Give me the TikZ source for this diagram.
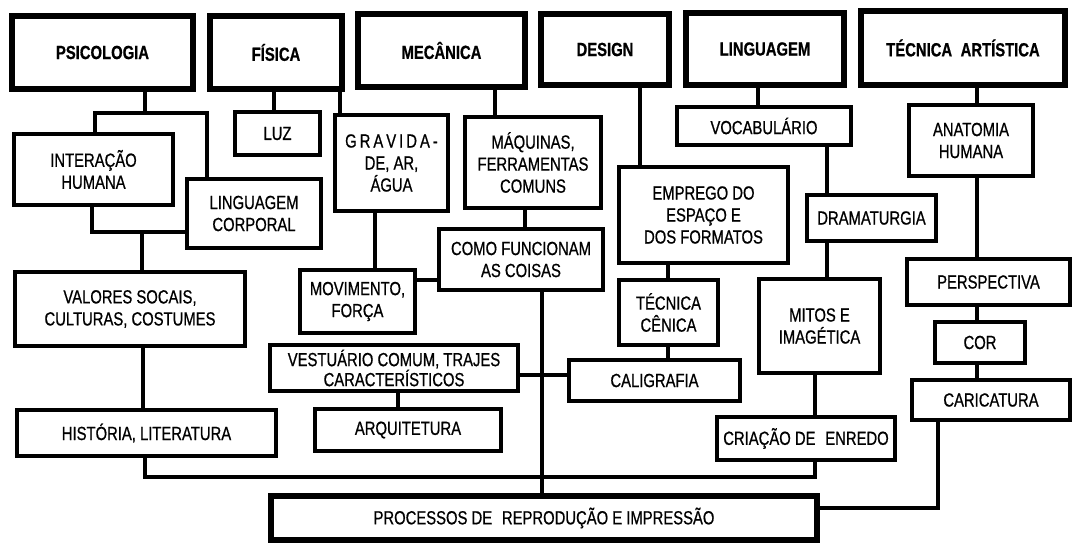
\documentclass[tikz,border=0pt]{standalone}
\usepackage{fontspec}
\setmainfont{Liberation Sans}[FakeStretch=0.78, FakeBold=0.7]
\begin{document}
\begin{tikzpicture}[x=1pt,y=-1pt,
  tbox/.style={draw, line width=6pt, fill=white, inner sep=1pt, outer sep=0pt, align=center,
    font=\fontsize{19}{22}\selectfont\bfseries},
  ibox/.style={draw, line width=4pt, fill=white, inner sep=1pt, outer sep=0pt, align=center,
    font=\fontsize{19}{22}\selectfont},
  conn/.style={line width=4pt}]
\fill[white] (0,0) rectangle (1075,546);
\useasboundingbox (0,0) rectangle (1075,546);

% top row
\node[tbox, minimum width=181pt, minimum height=73pt] (psi) at (102.5,52.5) {PSICOLOGIA};
\node[tbox, minimum width=132pt, minimum height=73pt] (fis) at (276,52.5) {FÍSICA};
\node[tbox, minimum width=167pt, minimum height=73pt] (mec) at (441.5,50.5) {MECÂNICA};
\node[tbox, minimum width=128pt, minimum height=71pt] (des) at (605,49.5) {DESIGN};
\node[tbox, minimum width=158pt, minimum height=72pt] (lin) at (765,49) {LINGUAGEM};
\node[tbox, minimum width=204pt, minimum height=74pt] (tec) at (963,48) {TÉCNICA\hspace{0.45em}ARTÍSTICA};

% psicologia branch
\node[ibox, minimum width=159pt, minimum height=71pt] (inter) at (93.5,169.5) {INTERAÇÃO\\HUMANA};
\node[ibox, minimum width=134pt, minimum height=69pt] (lingc) at (254,213.5) {LINGUAGEM\\CORPORAL};
\node[ibox, minimum width=230pt, minimum height=74pt] (valores) at (130,309) {VALORES SOCAIS,\\CULTURAS, COSTUMES};
\node[ibox, minimum width=259pt, minimum height=46pt] (hist) at (146.5,433) {HISTÓRIA, LITERATURA};

% fisica / mecanica branch
\node[ibox, minimum width=85pt, minimum height=43pt] (luz) at (277.5,133.5) {LUZ};
\node[ibox, minimum width=113pt, minimum height=96pt] (grav) at (391.5,163)
  {G\kern3pt R\kern3pt A\kern3pt V\kern3pt I\kern3pt D\kern3pt A\kern3pt -\\DE, AR,\\ÁGUA};
\node[ibox, minimum width=115pt, minimum height=63pt] (mov) at (357.5,301.5) {MOVIMENTO,\\FORÇA};
\node[ibox, minimum width=136pt, minimum height=91pt] (maq) at (533,162.5) {MÁQUINAS,\\FERRAMENTAS\\COMUNS};
\node[ibox, minimum width=164pt, minimum height=61pt] (como) at (521,259.5) {COMO FUNCIONAM\\AS COISAS};
\node[ibox, minimum width=248pt, minimum height=46pt, font=\fontsize{19}{20}\selectfont] (vest) at (394,368) {VESTUÁRIO COMUM, TRAJES\\CARACTERÍSTICOS};
\node[ibox, minimum width=186pt, minimum height=42pt] (arq) at (408,430) {ARQUITETURA};

% design branch
\node[ibox, minimum width=169pt, minimum height=96pt] (emp) at (703.5,215) {EMPREGO DO\\ESPAÇO E\\DOS FORMATOS};
\node[ibox, minimum width=99pt, minimum height=65pt] (tcen) at (668.5,312.5) {TÉCNICA\\CÊNICA};
\node[ibox, minimum width=171pt, minimum height=41pt] (cali) at (654.5,380.5) {CALIGRAFIA};

% linguagem branch
\node[ibox, minimum width=174pt, minimum height=38pt] (voc) at (764,126) {VOCABULÁRIO};
\node[ibox, minimum width=129pt, minimum height=46pt] (dram) at (871.5,218) {DRAMATURGIA};
\node[ibox, minimum width=121pt, minimum height=94pt] (mitos) at (819.5,326) {MITOS E\\IMAGÉTICA};
\node[ibox, minimum width=178pt, minimum height=43pt] (cria) at (806,438.5) {CRIAÇÃO DE\hspace{0.3em} ENREDO};

% tecnica artistica branch
\node[ibox, minimum width=124pt, minimum height=71pt] (anat) at (971,140.5) {ANATOMIA\\HUMANA};
\node[ibox, minimum width=163pt, minimum height=46pt] (persp) at (988.5,282) {PERSPECTIVA};
\node[ibox, minimum width=90pt, minimum height=41pt] (cor) at (980,342.5) {COR};
\node[ibox, minimum width=158pt, minimum height=40pt] (cari) at (991,400) {CARICATURA};

% bottom
\node[ibox, line width=5.5pt, minimum width=546pt, minimum height=44pt] (proc) at (544,518)
  {PROCESSOS DE\hspace{0.3em} REPRODUÇÃO E IMPRESSÃO};

% junction coordinates
\coordinate (j1) at (145,113);
\coordinate (j1a) at (95,113);
\coordinate (j1b) at (207,113);
\coordinate (j2a) at (92,232);
\coordinate (j2b) at (142,232);
\coordinate (j3) at (143,380);
\coordinate (j4a) at (145,477);
\coordinate (j4b) at (815,477);
\coordinate (j5) at (274,100);
\coordinate (j6) at (340,100);
\coordinate (j7) at (375,240);
\coordinate (j8) at (427,280);
\coordinate (j9) at (495,100);
\coordinate (j10) at (525,220);
\coordinate (j11) at (542,400);
\coordinate (j12) at (542,375);
\coordinate (j13) at (398,400);
\coordinate (j14) at (640,120);
\coordinate (j15) at (668,270);
\coordinate (j16) at (758,95);
\coordinate (j17) at (827,170);
\coordinate (j18) at (815,400);
\coordinate (j19) at (977,95);
\coordinate (j20) at (938,508);

% connectors
\draw[conn] (psi.south -| j1) -- (j1);
\draw[conn] (inter.north -| j1a) -- (j1a) -- (j1b) -- (lingc.north -| j1b);
\draw[conn] (inter.south -| j2a) -- (j2a) -- (lingc.west |- j2a);
\draw[conn] (j2b) -- (valores.north -| j2b);
\draw[conn] (valores.south -| j3) -- (hist.north -| j3);
\draw[conn] (hist.south -| j4a) -- (j4a) -- (j4b) -- (cria.south -| j4b);
\draw[conn] (fis.south -| j5) -- (luz.north -| j5);
\draw[conn] (fis.south -| j6) -- (grav.north -| j6);
\draw[conn] (grav.south -| j7) -- (mov.north -| j7);
\draw[conn] (mov.east |- j8) -- (como.west |- j8);
\draw[conn] (mec.south -| j9) -- (maq.north -| j9);
\draw[conn] (maq.south -| j10) -- (como.north -| j10);
\draw[conn] (como.south -| j11) -- (proc.north -| j11);
\draw[conn] (vest.east |- j12) -- (cali.west |- j12);
\draw[conn] (vest.south -| j13) -- (arq.north -| j13);
\draw[conn] (des.south -| j14) -- (emp.north -| j14);
\draw[conn] (emp.south -| j15) -- (tcen.north -| j15);
\draw[conn] (tcen.south -| j15) -- (cali.north -| j15);
\draw[conn] (lin.south -| j16) -- (voc.north -| j16);
\draw[conn] (voc.south -| j17) -- (dram.north -| j17);
\draw[conn] (dram.south -| j17) -- (mitos.north -| j17);
\draw[conn] (mitos.south -| j18) -- (cria.north -| j18);
\draw[conn] (tec.south -| j19) -- (anat.north -| j19);
\draw[conn] (anat.south -| j19) -- (persp.north -| j19);
\draw[conn] (persp.south -| j19) -- (cor.north -| j19);
\draw[conn] (cor.south -| j19) -- (cari.north -| j19);
\draw[conn] (cari.south -| j20) -- (j20) -- (proc.east |- j20);
\end{tikzpicture}
\end{document}
